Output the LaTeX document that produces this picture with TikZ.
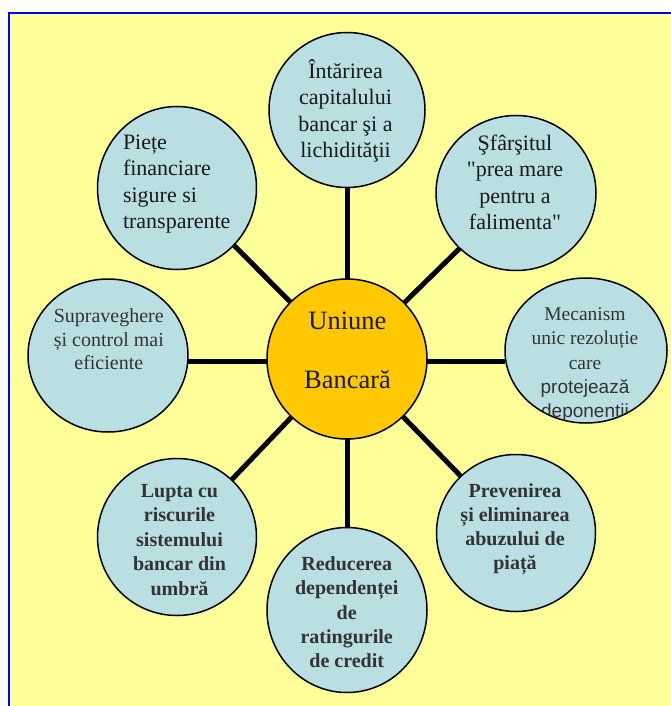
\documentclass[tikz,border=0pt]{standalone}
\usepackage{fontspec}
\setmainfont{Liberation Serif}
\newfontfamily\arialf{Liberation Sans}
\usetikzlibrary{shapes.geometric}
\definecolor{bgyellow}{RGB}{255,255,153}
\definecolor{bubblue}{RGB}{185,223,227}
\definecolor{hubfill}{RGB}{255,200,0}
\definecolor{frameblue}{RGB}{0,0,255}
\definecolor{txtgray}{RGB}{51,51,51}
\begin{document}
\begin{tikzpicture}[x=1pt,y=-1pt,
  bub/.style={ellipse,draw=black,line width=1.5pt,fill=bubblue,inner sep=0pt,outer sep=0pt},
  hubstyle/.style={ellipse,draw=black,line width=1.5pt,fill=hubfill,inner sep=0pt,outer sep=0pt},
  spoke/.style={line width=5pt,black},
  lbl/.style={inner sep=0pt,outer sep=0pt,align=center,anchor=north},
  bigtxt/.style={font=\fontsize{22}{26.5}\selectfont,text=black!90},
  midtxt/.style={font=\fontsize{20}{23.5}\selectfont,text=txtgray},
  boldtxt/.style={font=\fontsize{20}{24.3}\selectfont\bfseries,text=txtgray}]
\useasboundingbox (0,0) rectangle (671,706);
\fill[white] (0,0) rectangle (671,706);
\draw[frameblue,line width=2pt,fill=bgyellow] (9,13) rectangle (690,720);
% circles
\node[hubstyle,minimum width=160pt,minimum height=160pt] (hubn) at (347,359) {};
\node[bub,minimum width=156pt,minimum height=155pt] (top) at (347,110) {};
\node[bub,minimum width=160pt,minimum height=155pt] (sf) at (516,193) {};
\node[bub,minimum width=162pt,minimum height=145pt] (mec) at (586,350.5) {};
\node[bub,minimum width=160pt,minimum height=153pt] (sup) at (108,355.5) {};
\node[bub,minimum width=159pt,minimum height=163pt] (pie) at (177,188) {};
\node[bub,minimum width=159pt,minimum height=157pt] (prev) at (516,533) {};
\node[bub,minimum width=159pt,minimum height=157pt] (lup) at (177,537) {};
\node[bub,minimum width=160pt,minimum height=165pt] (red) at (347,610) {};
% spokes
\coordinate (hr) at ([yshift=-2pt]hubn.east);
\coordinate (hl) at ([yshift=-2pt]hubn.west);
\draw[spoke] (hubn) -- (top);
\draw[spoke] (hubn) -- (sf);
\draw[spoke] (hr) -- (mec.west |- hr);
\draw[spoke] (hl) -- (sup.east |- hl);
\draw[spoke] (hubn) -- (pie);
\draw[spoke] (hubn) -- (prev);
\draw[spoke] (hubn) -- (lup);
\draw[spoke] (hubn) -- (red);
% texts
\node[lbl,bigtxt] (ttop) at (345.5,59.5) {\strut Întărirea\\capitalului\\bancar şi a\\lichidităţii\strut};
\node[lbl,bigtxt] (tsf) at (515,131.5) {\strut Şfârşitul\\\textquotedbl prea mare\\pentru a\\falimenta\textquotedbl\strut};
\node[lbl,bigtxt,align=left,anchor=north west] (tpie) at (123,130.5) {\strut Piețe\\financiare\\sigure si\\transparente\strut};
\node[lbl,font=\fontsize{26.5}{59}\selectfont,text=black!90] (thub) at (347.5,287.7) {\strut Uniune\\Bancară\strut};
\node[lbl,midtxt] (tsup) at (108.8,306.5) {\strut Supraveghere\\și control mai\\eficiente\strut};
\begin{scope}
\clip (586,350.5) ellipse [x radius=80pt, y radius=71.5pt];
\node[lbl,font=\fontsize{19.5}{24.3}\selectfont,text=txtgray] (tmec) at (585,303.5) {\strut Mecanism\\unic rezoluție\\care\\{\arialf\fontsize{19}{24.3}\selectfont protejează}\\{\arialf\fontsize{19}{24.3}\selectfont deponentii}\strut};
\end{scope}
\node[lbl,boldtxt,font=\fontsize{20}{24.5}\selectfont\bfseries] (tlup) at (179.5,479.9) {\strut Lupta cu\\riscurile\\sistemului\\bancar din\\umbră\strut};
\node[lbl,boldtxt] (tprev) at (515,480) {\strut Prevenirea\\și eliminarea\\abuzului de\\piață\strut};
\node[lbl,boldtxt,font=\fontsize{20}{24.25}\selectfont\bfseries] (tred) at (346.7,553.7) {\strut Reducerea\\dependenței\\de\\ratingurile\\de credit\strut};
\end{tikzpicture}
\end{document}
